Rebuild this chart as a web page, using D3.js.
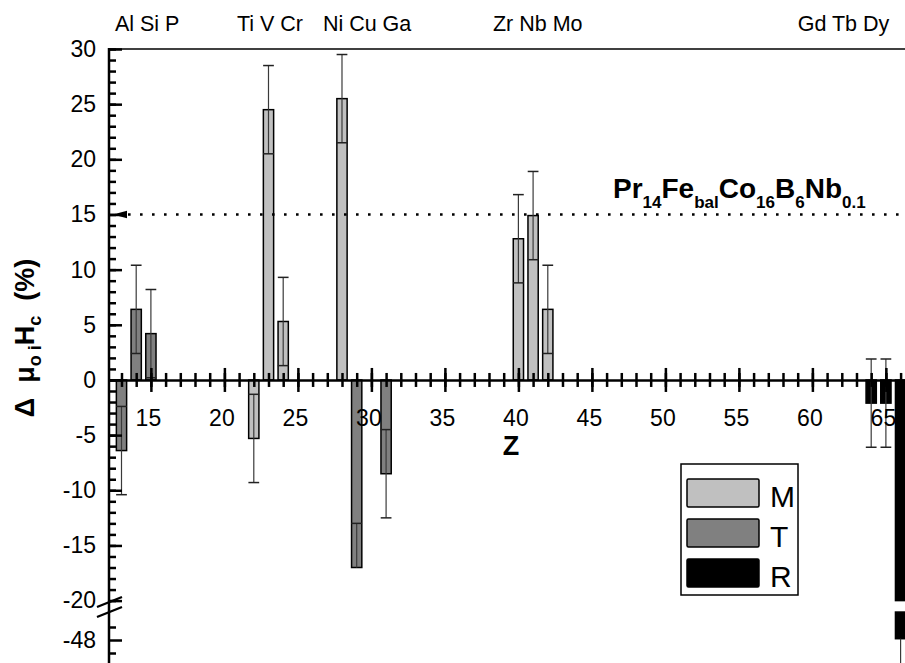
<!DOCTYPE html>
<html>
<head>
<meta charset="utf-8">
<script src="https://cdn.jsdelivr.net/npm/d3@7"></script>
<style>
    body { margin: 0; background: #fff; }
    text { font-family: "Liberation Sans", Arial, sans-serif; fill: #000; }
</style>
</head>
<body>
<svg id="chart" width="905" height="663"></svg>
<script>
// --- data ---
const elements = ["Al", "Si", "P", "Ti", "V", "Cr", "Ni", "Cu", "Ga", "Zr", "Nb", "Mo", "Gd", "Tb", "Dy"];
const zNumbers = [13, 14, 15, 22, 23, 24, 28, 29, 31, 40, 41, 42, 64, 65, 66];
const phases = ["T", "T", "T", "M", "M", "M", "M", "T", "T", "M", "M", "M", "R", "R", "R"];
const deltaHc = [-6.4, 6.4, 4.2, -5.3, 24.5, 5.3, 25.5, -17, -8.5, 12.8, 14.9, 6.4, -2.1, -2.1, -47.9];
const errors = [4, 4, 4, 4, 4, 4, 4, 4, 4, 4, 4, 4, 4, 4, 4];

const groupLabels = ["Al Si P", "Ti V Cr", "Ni Cu Ga", "Zr Nb Mo", "Gd Tb Dy"];
const groupZ = [12.55, 20.85, 26.7, 38.27, 59.0];

const phaseNames = ["M", "T", "R"];
const phaseColors = ["#c0c0c0", "#808080", "#000000"];

const xTickValues = [15, 20, 25, 30, 35, 40, 45, 50, 55, 60, 65];
const yTicksUpper = [-20, -15, -10, -5, 0, 5, 10, 15, 20, 25, 30];
const yTicksLower = [-48];

const refValue = 15;
const refParts = [["Pr", 0], ["14", 1], ["Fe", 0], ["bal", 1], ["Co", 0], ["16", 1], ["B", 0], ["6", 1], ["Nb", 0], ["0.1", 1]];

// --- layout ---
const width = 905, height = 663;
const axisX = 109;
const breakHi = -20, breakLo = -45.85;

const svg = d3.select("#chart");

const x = d3.scaleLinear().domain([12.15, 66.3]).range([axisX, width]);
const yUp = d3.scaleLinear().domain([-20, 30]).range([600.6, 49]);
const yLow = d3.scaleLinear().domain([-48, -49]).range([640, 653]);

const fmt = function (d) { return String(d); };

function inGap(v) {
    return v < breakHi && v > breakLo;
}
function y(v) {
    if (v >= breakHi) return yUp(v);
    return yLow(v);
}

let data = zNumbers.map(function (z, i) {
    return {name: elements[i], z: z, phase: phases[i], v: deltaHc[i], e: errors[i]};
});

const color = d3.scaleOrdinal().domain(phaseNames).range(phaseColors);
const bw = x(0.8) - x(0);

// bars (split in two when they cross the axis break)
let pieces = [];
data.forEach(function (d) {
    if (d.v >= breakHi) {
        pieces.push({d: d, y0: y(0), y1: y(d.v)});
    } else {
        pieces.push({d: d, y0: y(0), y1: yUp(breakHi)});
        pieces.push({d: d, y0: yLow(breakLo), y1: y(d.v)});
    }
});

svg.append("g").selectAll("rect")
    .data(pieces)
    .enter()
    .append("rect")
    .attr("x", function (p) { return x(p.d.z) - bw / 2 + 0.75; })
    .attr("width", bw - 1.5)
    .attr("y", function (p) { return Math.min(p.y0, p.y1); })
    .attr("height", function (p) { return Math.abs(p.y1 - p.y0); })
    .attr("fill", function (p) { return color(p.d.phase); })
    .attr("stroke", "#000")
    .attr("stroke-width", 1.5);

// error bars
let errG = svg.append("g");
data.forEach(function (d) {
    let cx = x(d.z);
    [d.v + d.e, d.v - d.e].forEach(function (end) {
        if (inGap(end)) return;
        errG.append("line")
            .attr("x1", cx).attr("x2", cx)
            .attr("y1", y(d.v)).attr("y2", y(end))
            .attr("stroke", "#3a3a3a")
            .attr("stroke-width", 1.2);
        errG.append("line")
            .attr("x1", cx - bw / 2 + 0.5).attr("x2", cx + bw / 2 - 0.5)
            .attr("y1", y(end)).attr("y2", y(end))
            .attr("stroke", "#222")
            .attr("stroke-width", 1.5);
    });
});

// reference level
svg.append("line")
    .attr("x1", 128).attr("x2", width)
    .attr("y1", yUp(refValue)).attr("y2", yUp(refValue))
    .attr("stroke", "#000")
    .attr("stroke-width", 2.6)
    .attr("stroke-dasharray", "2.6 9.4");

svg.append("path")
    .attr("d", "M" + (axisX + 4) + "," + yUp(refValue) + "l14,-3.8v7.6z")
    .attr("fill", "#000");

let ref = svg.append("text")
    .attr("x", 613)
    .attr("y", yUp(refValue) - 16)
    .attr("font-size", 28)
    .attr("font-weight", "bold");
refParts.forEach(function (p, i) {
    let prevSub = i > 0 && refParts[i - 1][1];
    ref.append("tspan")
        .attr("font-size", p[1] ? 17 : 28)
        .attr("dy", p[1] ? 10 : (prevSub ? -10 : 0))
        .text(p[0]);
});

// top border
svg.append("line")
    .attr("x1", axisX).attr("x2", width)
    .attr("y1", yUp(30)).attr("y2", yUp(30))
    .attr("stroke", "#000").attr("stroke-width", 1.5);

// x axis (ticks cross the zero line)
let xAxisG = svg.append("g")
    .attr("transform", "translate(0," + yUp(0) + ")");
xAxisG.call(d3.axisBottom(x).tickValues(d3.range(13, 67)).tickSize(0).tickFormat(""));
xAxisG.select(".domain").attr("stroke-width", 2.5);
xAxisG.selectAll(".tick line")
    .attr("y1", -7).attr("y2", 7)
    .attr("stroke-width", 2.5);

let xMajor = svg.append("g")
    .attr("transform", "translate(0," + yUp(0) + ")")
    .call(d3.axisBottom(x).tickValues(xTickValues).tickFormat(fmt).tickSizeInner(12).tickSizeOuter(0).tickPadding(18));
xMajor.select(".domain").remove();
xMajor.selectAll(".tick line").attr("y1", -12).attr("stroke-width", 2.5);
xMajor.selectAll(".tick text").attr("x", -3);

// y axis, upper segment
let yMinor = svg.append("g")
    .attr("transform", "translate(" + axisX + ",0)")
    .call(d3.axisLeft(yUp).tickValues(d3.range(-20, 31)).tickSizeInner(-7).tickSizeOuter(0).tickFormat(""));
yMinor.select(".domain").remove();
yMinor.selectAll(".tick line").attr("stroke-width", 2.5);

let yMajor = svg.append("g")
    .attr("transform", "translate(" + axisX + ",0)")
    .call(d3.axisLeft(yUp).tickValues(yTicksUpper).tickFormat(fmt).tickSizeInner(-13).tickSizeOuter(0).tickPadding(13));
yMajor.select(".domain").remove();
yMajor.selectAll(".tick line").attr("stroke-width", 2.5);

// y axis, lower segment
let yLowMinor = svg.append("g")
    .attr("transform", "translate(" + axisX + ",0)")
    .call(d3.axisLeft(yLow).tickValues([-47, -49]).tickSizeInner(-7).tickSizeOuter(0).tickFormat(""));
yLowMinor.select(".domain").remove();
yLowMinor.selectAll(".tick line").attr("stroke-width", 2.5);

let yLowMajor = svg.append("g")
    .attr("transform", "translate(" + axisX + ",0)")
    .call(d3.axisLeft(yLow).tickValues(yTicksLower).tickFormat(fmt).tickSizeInner(-13).tickSizeOuter(0).tickPadding(13));
yLowMajor.select(".domain").remove();
yLowMajor.selectAll(".tick line").attr("stroke-width", 2.5);

svg.selectAll(".tick text")
    .attr("font-size", 23)
    .style("font-family", "'Liberation Sans', Arial, sans-serif");

// axis line + break marks
svg.append("line")
    .attr("x1", axisX).attr("x2", axisX)
    .attr("y1", yUp(30) - 1).attr("y2", height)
    .attr("stroke", "#000").attr("stroke-width", 2.5);

[0, 10].forEach(function (off) {
    svg.append("line")
        .attr("x1", 97).attr("y1", 607 + off)
        .attr("x2", 122).attr("y2", 597 + off)
        .attr("stroke", "#000").attr("stroke-width", 2.2);
});

// element groups on top
svg.append("g").selectAll("text")
    .data(groupLabels)
    .enter()
    .append("text")
    .attr("x", function (d, i) { return x(groupZ[i]); })
    .attr("y", 31)
    .attr("font-size", 21.5)
    .text(function (d) { return d; });

// axis titles
svg.append("text")
    .attr("x", 511)
    .attr("y", 455)
    .attr("text-anchor", "middle")
    .attr("font-size", 27)
    .attr("font-weight", "bold")
    .text("Z");

let yTitle = svg.append("text")
    .attr("transform", "translate(34,338) rotate(-90)")
    .attr("text-anchor", "middle")
    .attr("font-size", 27)
    .attr("font-weight", "bold")
    .attr("xml:space", "preserve");
yTitle.append("tspan").text("\u0394  \u03bc");
yTitle.append("tspan").attr("font-size", 18).attr("dy", 7).text("o ");
yTitle.append("tspan").attr("font-size", 18).text("i");
yTitle.append("tspan").attr("dy", -7).text("H");
yTitle.append("tspan").attr("font-size", 18).attr("dy", 7).text("c");
yTitle.append("tspan").attr("dy", -7).text("  (%)");

// legend
let legend = svg.append("g").attr("transform", "translate(681,464)");
legend.append("rect")
    .attr("width", 117).attr("height", 131)
    .attr("fill", "#fff")
    .attr("stroke", "#000").attr("stroke-width", 1.5);
let item = legend.selectAll(".item")
    .data(phaseNames)
    .enter()
    .append("g")
    .attr("class", "item")
    .attr("transform", function (d, i) { return "translate(6," + (15 + i * 40) + ")"; });
item.append("rect")
    .attr("width", 72).attr("height", 28)
    .attr("rx", 1.5)
    .attr("fill", function (d) { return color(d); })
    .attr("stroke", "#000").attr("stroke-width", 1.5);
item.append("text")
    .attr("x", 83)
    .attr("y", 28)
    .attr("font-size", 30)
    .text(function (d) { return d; });
</script>
</body>
</html>
